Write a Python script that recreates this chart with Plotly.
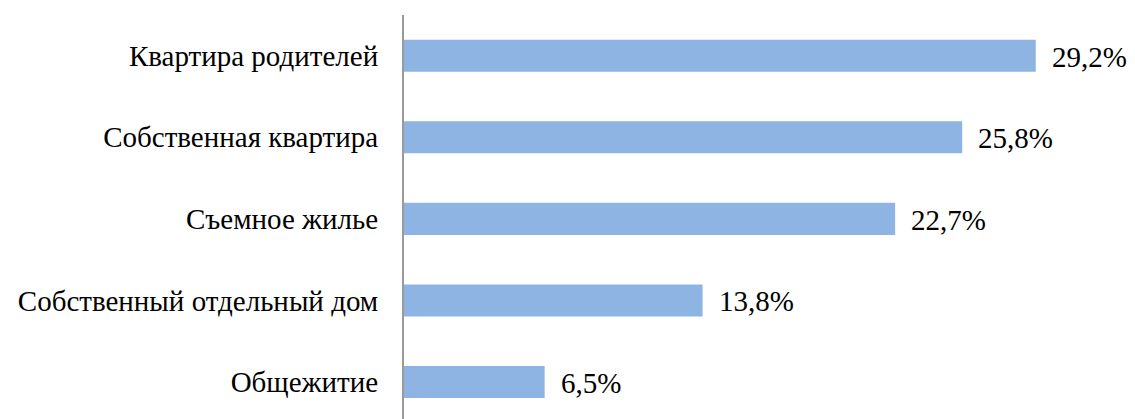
import plotly.graph_objects as go

categories = ["Квартира родителей", "Собственная квартира", "Съемное жилье",
              "Собственный отдельный дом", "Общежитие"]
values = [29.2, 25.8, 22.7, 13.8, 6.5]
value_labels = ["29,2%", "25,8%", "22,7%", "13,8%", "6,5%"]

FONT = "Liberation Serif"

fig = go.Figure(go.Bar(
    x=values, y=categories, orientation="h",
    marker=dict(color="#8EB4E3", line=dict(width=0)),
    hoverinfo="skip",
))

for c, v, t in zip(categories, values, value_labels):
    fig.add_annotation(x=v, y=c, text=t, xanchor="left", yanchor="middle",
                       xshift=14, yshift=-1, showarrow=False,
                       font=dict(family=FONT, size=29, color="#000000"))

fig.update_layout(
    width=1135, height=419,
    margin=dict(l=396, r=25, t=7, b=8, autoexpand=False),
    paper_bgcolor="white", plot_bgcolor="white",
    bargap=0.607,
    showlegend=False,
    font=dict(family=FONT),
)
fig.update_xaxes(range=[0, 33], visible=False, showgrid=False, zeroline=False,
                 automargin=False)
fig.update_yaxes(
    categoryorder="array", categoryarray=categories,
    range=[4.454, -0.5], automargin=False,
    showline=True, linecolor="#9a9a9a", linewidth=2,
    showgrid=False, zeroline=False, ticks="",
    ticklabelstandoff=18,
    tickfont=dict(family=FONT, size=29, color="#000000"),
)

fig.write_html("out.html")
